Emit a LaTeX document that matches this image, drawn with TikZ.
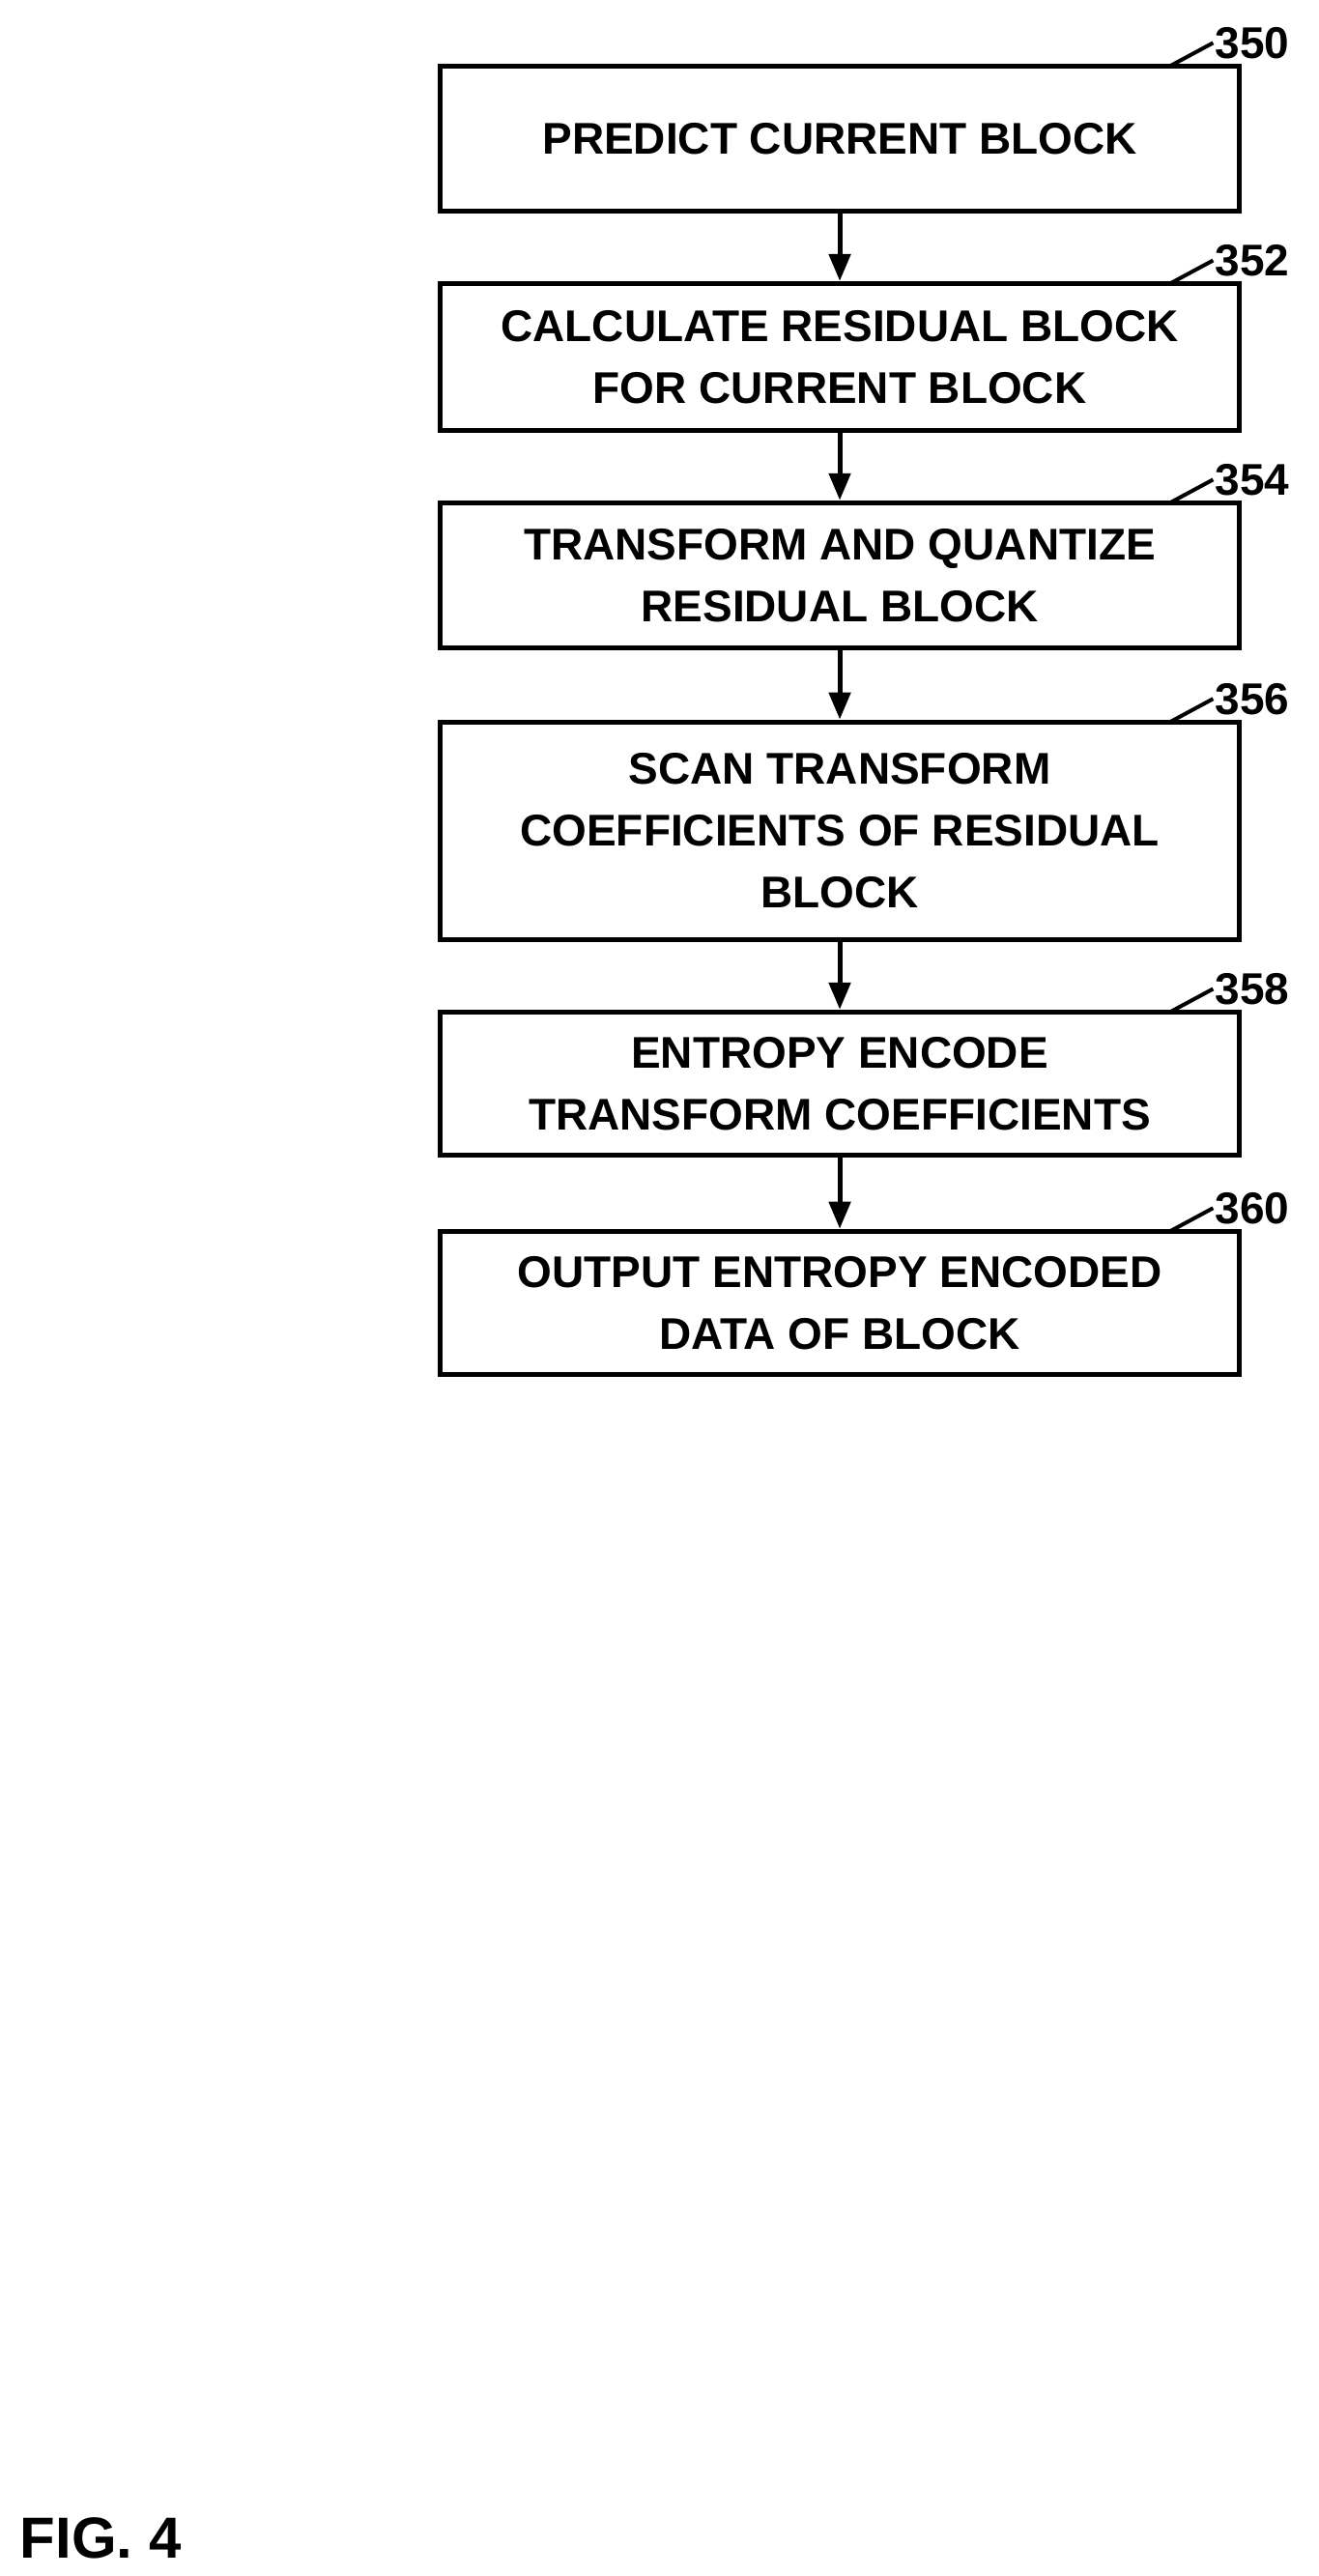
\documentclass[tikz,border=0pt]{standalone}
\usepackage{fontspec}
\setmainfont{Liberation Sans}
\usetikzlibrary{arrows.meta}
\tikzset{
  stepbox/.style={draw,line width=2.5pt,minimum width=14.55cm,align=center,
    font=\fontsize{23}{32}\selectfont\bfseries,inner sep=0pt},
  refnum/.style={font=\fontsize{23}{26}\selectfont\bfseries,anchor=west,inner sep=0pt},
  flow/.style={line width=2.5pt,-{Triangle[length=14pt,width=11pt]}}
}
\begin{document}
\begin{tikzpicture}[x=0.03cm,y=-0.03cm]
  \useasboundingbox (0,0) rectangle (800,1563);
  % steps
  \foreach \n/\t/\b/\txt in {350/40/128/{PREDICT CURRENT BLOCK},
      352/172/261/{CALCULATE RESIDUAL BLOCK\\FOR CURRENT BLOCK},
      354/305/393/{TRANSFORM AND QUANTIZE\\RESIDUAL BLOCK},
      356/438/570/{SCAN TRANSFORM\\COEFFICIENTS OF RESIDUAL\\BLOCK},
      358/614/701/{ENTROPY ENCODE\\TRANSFORM COEFFICIENTS},
      360/747/834/{OUTPUT ENTROPY ENCODED\\DATA OF BLOCK}} {
    \node[stepbox,minimum height={(\b-\t)*0.03cm}] (s\n) at (509.5,{(\t+\b)/2}) {\txt};
    \coordinate (t\n) at (710,\t);
    \coordinate (e\n) at (736,{\t-14});
    \draw[line width=2pt] (t\n) -- (e\n);
    \node[refnum] (l\n) at ([xshift=1pt]e\n) {\n};
  }
  \draw[flow] (s350) -- (s352);
  \draw[flow] (s352) -- (s354);
  \draw[flow] (s354) -- (s356);
  \draw[flow] (s356) -- (s358);
  \draw[flow] (s358) -- (s360);
  \node[font=\fontsize{30}{34}\selectfont\bfseries,anchor=west,inner sep=0pt] (fig) at (12,1540) {FIG. 4};
\end{tikzpicture}
\end{document}
